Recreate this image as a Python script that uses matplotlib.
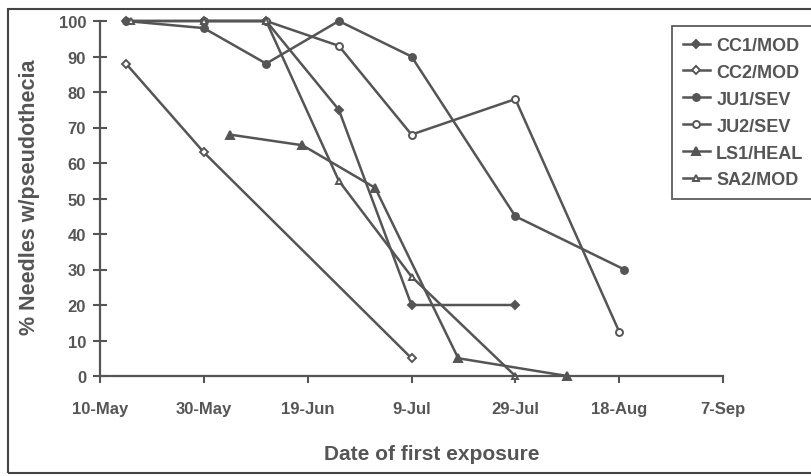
import datetime as dt
import matplotlib
matplotlib.use("Agg")
import matplotlib.pyplot as plt
from matplotlib.patches import Rectangle

plt.rcParams["font.family"] = ["Liberation Sans", "DejaVu Sans"]

GRAY = "#555555"
YEAR = 2000


def d(s):
    return dt.datetime.strptime(f"{s}-{YEAR}", "%d-%b-%Y")


# Sampling dates and % of needles with pseudothecia per site
cc1_dates = ["15-May", "30-May", "11-Jun", "25-Jun", "9-Jul", "29-Jul"]
cc1_vals = [100, 100, 100, 75, 20, 20]

cc2_dates = ["15-May", "30-May", "9-Jul"]
cc2_vals = [88, 63, 5]

ju1_dates = ["15-May", "30-May", "11-Jun", "25-Jun", "9-Jul", "29-Jul", "19-Aug"]
ju1_vals = [100, 98, 88, 100, 90, 45, 30]

ju2_dates = ["30-May", "11-Jun", "25-Jun", "9-Jul", "29-Jul", "18-Aug"]
ju2_vals = [100, 100, 93, 68, 78, 12.5]

ls1_dates = ["4-Jun", "18-Jun", "2-Jul", "18-Jul", "8-Aug"]
ls1_vals = [68, 65, 53, 5, 0]

sa2_dates = ["16-May", "30-May", "11-Jun", "25-Jun", "9-Jul", "29-Jul"]
sa2_vals = [100, 100, 100, 55, 28, 0]

tick_labels = ["10-May", "30-May", "19-Jun", "9-Jul", "29-Jul", "18-Aug", "7-Sep"]
y_ticks = list(range(0, 101, 10))

series = [
    ("CC1/MOD", cc1_dates, cc1_vals, dict(marker="D", ms=4, mfc=GRAY)),
    ("CC2/MOD", cc2_dates, cc2_vals, dict(marker="D", ms=4, mfc="white")),
    ("JU1/SEV", ju1_dates, ju1_vals, dict(marker="o", ms=5, mfc=GRAY)),
    ("JU2/SEV", ju2_dates, ju2_vals, dict(marker="o", ms=5, mfc="white")),
    ("LS1/HEAL", ls1_dates, ls1_vals, dict(marker="^", ms=5.5, mfc=GRAY)),
    ("SA2/MOD", sa2_dates, sa2_vals, dict(marker="^", ms=4.5, mfc="white")),
]

fig = plt.figure(figsize=(8.12, 4.77), dpi=100)
ax = fig.add_axes([100 / 812, 1 - 377 / 477, 623 / 812, 355 / 477])

handles = []
for name, dates, vals, style in series:
    (h,) = ax.plot([d(s) for s in dates], vals, color=GRAY, lw=1.8,
                   mec=GRAY, mew=1.4, label=name, clip_on=False, **style)
    handles.append(h)

ax.set_xlim(d(tick_labels[0]), d(tick_labels[-1]))
ax.set_ylim(0, 100)
ax.set_xticks([d(s) for s in tick_labels])
ax.set_xticklabels(tick_labels)
ax.set_yticks(y_ticks)

for side in ("top", "right"):
    ax.spines[side].set_visible(False)
for side in ("left", "bottom"):
    ax.spines[side].set_color(GRAY)
    ax.spines[side].set_linewidth(1.6)

ax.tick_params(axis="y", direction="inout", length=10, width=1.5, color=GRAY,
               pad=5, labelsize=12, labelcolor=GRAY)
ax.tick_params(axis="x", direction="out", length=5, width=1.5, color=GRAY,
               pad=13, labelsize=12, labelcolor=GRAY)
for lab in ax.get_xticklabels() + ax.get_yticklabels():
    lab.set_fontweight("bold")

fig.text(30 / 812, 1 - 197 / 477, "% Needles w/pseudothecia", rotation=90,
         ha="center", va="center", fontsize=15.5, fontweight="bold", color=GRAY)
fig.text(432 / 812, 1 - 455 / 477, "Date of first exposure",
         ha="center", va="center", fontsize=15, fontweight="bold", color=GRAY)

leg = fig.legend(handles=handles, loc="upper left",
                 bbox_to_anchor=(672 / 812, 1 - 27 / 477),
                 frameon=True, fancybox=False, edgecolor="#333333",
                 prop=dict(weight="bold", size=13), labelcolor=GRAY,
                 handlelength=1.5, handletextpad=0.35, labelspacing=0.55,
                 borderpad=0.6, borderaxespad=0)
leg.get_frame().set_linewidth(1.3)

# outer chart border
fig.patches.append(Rectangle((8 / 812, 3 / 477), 820 / 812, 464 / 477,
                             transform=fig.transFigure, fill=False,
                             edgecolor="#444444", lw=1.5))

fig.savefig("out.png", dpi=100)
